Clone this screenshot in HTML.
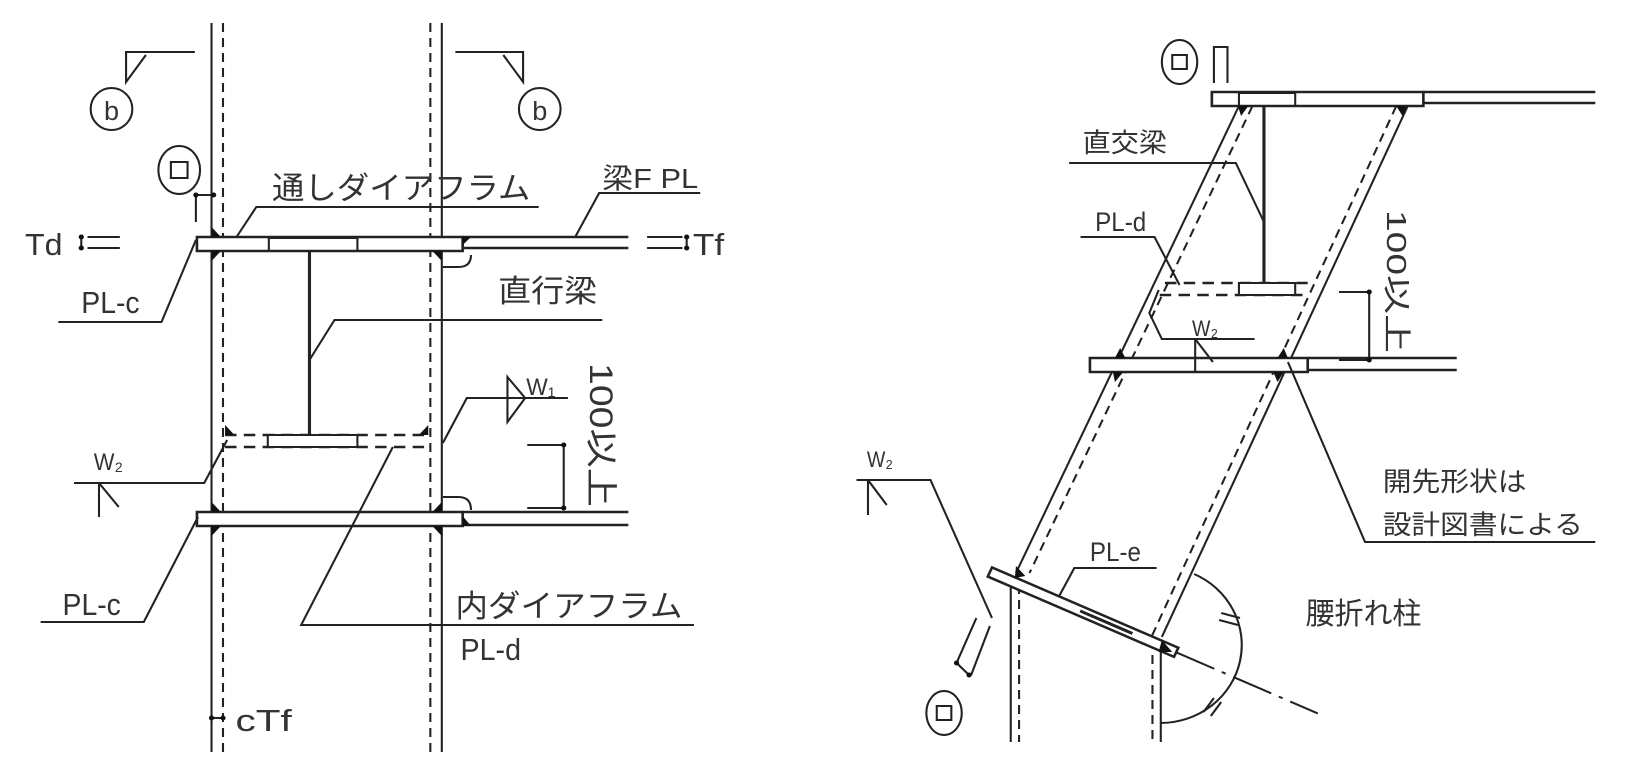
<!DOCTYPE html>
<html><head><meta charset="utf-8"><style>
html,body{margin:0;padding:0;background:#fff;width:1628px;height:776px;overflow:hidden}
svg{display:block}
text{font-family:"Liberation Sans","Noto Sans CJK JP",sans-serif;fill:#333}
</style></head><body>
<svg width="1628" height="776" viewBox="0 0 1628 776" xmlns="http://www.w3.org/2000/svg">
<g transform="scale(1.042,1)">
<g stroke="#222" stroke-width="2" fill="none">
<!-- LEFT FIGURE -->
<line x1="203" y1="23" x2="203" y2="752"/>
<line x1="424" y1="23" x2="424" y2="752"/>
<line x1="214" y1="23" x2="214" y2="752" stroke-dasharray="9,6"/>
<line x1="413" y1="23" x2="413" y2="752" stroke-dasharray="9,6"/>
<rect x="189" y="237" width="255" height="14" fill="#fff" stroke-width="2.5"/>
<rect x="258" y="238" width="85" height="13"/>
<line x1="444" y1="237" x2="603" y2="237" stroke-width="2.5"/>
<line x1="444" y1="248" x2="603" y2="248" stroke-width="2.5"/>
<path d="M425 267 L440 267 Q452 267 452 255"/>
<line x1="297" y1="251" x2="297" y2="435" stroke-width="3"/>
<line x1="216" y1="435" x2="413" y2="435" stroke-dasharray="11,7" stroke-width="2.5"/>
<line x1="216" y1="447" x2="413" y2="447" stroke-dasharray="11,7" stroke-width="2.5"/>
<rect x="257" y="435" width="86" height="12" fill="#fff"/>
<rect x="189" y="512" width="255" height="14" fill="#fff" stroke-width="2.5"/>
<line x1="444" y1="512" x2="603" y2="512" stroke-width="2.5"/>
<line x1="444" y1="525" x2="603" y2="525" stroke-width="2.5"/>
<path d="M425 497 L440 497 Q452 497 452 510"/>
<ellipse cx="107" cy="109" rx="20" ry="21"/>
<path d="M187 52 L121 52 L121 82 L140 55"/>
<ellipse cx="518" cy="109" rx="20" ry="21"/>
<path d="M437 52 L502 52 L502 82 L483 55"/>
<ellipse cx="172" cy="170" rx="20" ry="24"/>
<rect x="164" y="162" width="16" height="16"/>
<line x1="188" y1="195" x2="205" y2="195"/>
<line x1="188" y1="195" x2="188" y2="222"/>
<line x1="78" y1="237" x2="78" y2="248"/>
<line x1="84" y1="237" x2="115" y2="237"/>
<line x1="84" y1="248" x2="115" y2="248"/>
<line x1="621" y1="237" x2="655" y2="237"/>
<line x1="621" y1="248" x2="655" y2="248"/>
<line x1="659" y1="237" x2="659" y2="248"/>
<path d="M227 237 L246 207 L517 207"/>
<path d="M552 237 L575 193 L672 193"/>
<path d="M188 240 L155 322 L56 322"/>
<path d="M297 360 L321 320 L578 320"/>
<path d="M425 443 L448 398 L545 398"/>
<path d="M487 377 L504 398 L487 422 Z"/>
<line x1="541" y1="445" x2="541" y2="508"/>
<line x1="506" y1="445" x2="541" y2="445"/>
<line x1="506" y1="508" x2="541" y2="508"/>
<path d="M218 440 L196 483 L71 483"/>
<line x1="95" y1="483" x2="95" y2="517"/>
<line x1="95" y1="483" x2="114" y2="507"/>
<path d="M190 517 L138 622 L39 622"/>
<path d="M377 447 L289 625 L666 625"/>
<line x1="203" y1="718" x2="214" y2="718"/>

<!-- RIGHT FIGURE -->
<line x1="1189" y1="106" x2="975" y2="573"/>
<line x1="1202" y1="106" x2="988" y2="573" stroke-dasharray="9,6"/>
<line x1="970" y1="580" x2="970" y2="742"/>
<line x1="978" y1="585" x2="978" y2="742" stroke-dasharray="9,6"/>
<line x1="1351" y1="106" x2="1115" y2="637"/>
<line x1="1340" y1="106" x2="1105" y2="637" stroke-dasharray="9,6"/>
<line x1="1114" y1="650" x2="1114" y2="742"/>
<line x1="1106" y1="655" x2="1106" y2="742" stroke-dasharray="9,6"/>
<rect x="1163" y="92" width="203" height="14" fill="#fff" stroke-width="2.5"/>
<rect x="1189" y="93" width="54" height="13"/>
<line x1="1366" y1="92" x2="1531" y2="92" stroke-width="2.5"/>
<line x1="1366" y1="103" x2="1531" y2="103" stroke-width="2.5"/>
<line x1="1213" y1="106" x2="1213" y2="283" stroke-width="3"/>
<line x1="1118" y1="283" x2="1262" y2="283" stroke-dasharray="11,7" stroke-width="2.5"/>
<line x1="1113" y1="295" x2="1256" y2="295" stroke-dasharray="11,7" stroke-width="2.5"/>
<rect x="1189" y="283" width="54" height="12" fill="#fff"/>
<rect x="1046" y="358" width="209" height="14" fill="#fff" stroke-width="2.5"/>
<line x1="1255" y1="358" x2="1398" y2="358" stroke-width="2.5"/>
<line x1="1255" y1="370" x2="1398" y2="370" stroke-width="2.5"/>
<ellipse cx="1132" cy="62" rx="17" ry="22"/>
<rect x="1125" y="55" width="14" height="14"/>
<path d="M1165 83 L1165 47 L1178 47 L1178 83"/>
<path d="M1213 222 L1186 163 L1026 163"/>
<path d="M1132 285 L1108 237 L1037 237"/>
<path d="M1112 290 L1103 313 L1115 339 L1204 339"/>
<line x1="1147" y1="339" x2="1147" y2="372"/>
<line x1="1147" y1="339" x2="1164" y2="362"/>
<line x1="1314" y1="292" x2="1314" y2="360"/>
<line x1="1285" y1="292" x2="1314" y2="292"/>
<line x1="1285" y1="360" x2="1314" y2="360"/>
<path d="M1236 362 L1310 542 L1531 542"/>
<g transform="translate(950,572) rotate(24.2)">
<rect x="0" y="-5" width="196" height="10" fill="#fff" stroke-width="2.5"/>
<line x1="95" y1="0" x2="150" y2="0" stroke-width="3"/>
<line x1="196" y1="0" x2="345" y2="0" stroke-dasharray="40,8,4,8"/>
</g>
<path d="M1016 597 L1031 568 L1110 568"/>
<path d="M1146 574 A78 78 0 0 1 1114 723"/>
<line x1="1172" y1="613" x2="1190" y2="618"/>
<line x1="1170" y1="620" x2="1188" y2="625"/>
<line x1="1155" y1="712" x2="1165" y2="698"/>
<line x1="1162" y1="716" x2="1172" y2="702"/>
<path d="M822 480 L893 480 L952 618"/>
<line x1="833" y1="480" x2="833" y2="515"/>
<line x1="833" y1="480" x2="851" y2="505"/>
<line x1="937" y1="618" x2="918" y2="663"/>
<line x1="950" y1="626" x2="932" y2="675"/>
<line x1="918" y1="663" x2="930" y2="675"/>
<ellipse cx="906" cy="713" rx="17" ry="22"/>
<rect x="899" y="706" width="14" height="14"/>
</g>
<g fill="#111">
<path d="M203 227 L212 237 L203 237Z"/><path d="M203 251 L212 251 L203 261Z"/>
<path d="M424 251 L415 251 L424 261Z"/><path d="M444 245 L452 237 L444 237Z"/>
<path d="M216 425 L225 435 L216 435Z"/><path d="M411 425 L402 435 L411 435Z"/>
<path d="M203 502 L212 512 L203 512Z"/><path d="M203 526 L212 526 L203 536Z"/>
<path d="M424 502 L415 512 L424 512Z"/><path d="M424 526 L415 526 L424 536Z"/>
<path d="M444 516 L452 526 L444 526Z"/>
<path d="M1188 106 L1198 106 L1191 116Z"/><path d="M1350 106 L1340 106 L1346 116Z"/>
<path d="M1070 358 L1080 358 L1075 348Z"/><path d="M1068 372 L1078 372 L1070 382Z"/>
<path d="M1236 358 L1226 358 L1232 348Z"/><path d="M1232 372 L1222 372 L1226 382Z"/>
<path d="M975 566 L984 576 L974 578Z"/><path d="M1115 640 L1125 652 L1112 652Z"/>
<circle cx="78" cy="237" r="2.5"/><circle cx="78" cy="248" r="2.5"/>
<circle cx="659" cy="237" r="2.5"/><circle cx="659" cy="248" r="2.5"/>
<circle cx="188" cy="195" r="2.5"/><circle cx="205" cy="195" r="2.5"/>
<circle cx="541" cy="445" r="2.5"/><circle cx="541" cy="508" r="2.5"/>
<circle cx="203" cy="718" r="2.5"/><circle cx="214" cy="718" r="2.5"/>
<circle cx="1314" cy="292" r="2.5"/><circle cx="1314" cy="360" r="2.5"/>
<circle cx="918" cy="663" r="2.5"/><circle cx="930" cy="675" r="2.5"/>
</g>
<g font-size="31">
<text x="107" y="120" font-size="26" text-anchor="middle">b</text>
<text x="518" y="120" font-size="26" text-anchor="middle">b</text>
<text x="24" y="255" textLength="36" lengthAdjust="spacingAndGlyphs">Td</text>
<text x="665" y="255" textLength="30" lengthAdjust="spacingAndGlyphs">Tf</text>
<text x="261" y="199" textLength="248" lengthAdjust="spacingAndGlyphs">通しダイアフラム</text>
<text x="578" y="188" font-size="28" textLength="92" lengthAdjust="spacingAndGlyphs">梁F PL</text>
<text x="78" y="313" textLength="56" lengthAdjust="spacingAndGlyphs">PL-c</text>
<text x="478" y="302" textLength="95" lengthAdjust="spacingAndGlyphs">直行梁</text>
<text x="505" y="395" font-size="24" textLength="28" lengthAdjust="spacingAndGlyphs">W₁</text>
<text x="90" y="470" font-size="24" textLength="28" lengthAdjust="spacingAndGlyphs">W₂</text>
<text transform="translate(566,363) rotate(90)" textLength="144" lengthAdjust="spacingAndGlyphs">100以上</text>
<text x="60" y="615" textLength="56" lengthAdjust="spacingAndGlyphs">PL-c</text>
<text x="437" y="617" textLength="218" lengthAdjust="spacingAndGlyphs">内ダイアフラム</text>
<text x="442" y="660" textLength="58" lengthAdjust="spacingAndGlyphs">PL-d</text>
<text x="226" y="731" textLength="54" lengthAdjust="spacingAndGlyphs">cTf</text>
<text x="1039" y="152" font-size="27" textLength="81" lengthAdjust="spacingAndGlyphs">直交梁</text>
<text x="1051" y="231" font-size="27" textLength="49" lengthAdjust="spacingAndGlyphs">PL-d</text>
<text x="1144" y="336" font-size="22" textLength="25" lengthAdjust="spacingAndGlyphs">W₂</text>
<text transform="translate(1331,210) rotate(90)" font-size="27" textLength="143" lengthAdjust="spacingAndGlyphs">100以上</text>
<text x="832" y="467" font-size="22" textLength="25" lengthAdjust="spacingAndGlyphs">W₂</text>
<text x="1327" y="491" font-size="27" textLength="138" lengthAdjust="spacingAndGlyphs">開先形状は</text>
<text x="1327" y="534" font-size="27" textLength="192" lengthAdjust="spacingAndGlyphs">設計図書による</text>
<text x="1046" y="561" font-size="27" textLength="49" lengthAdjust="spacingAndGlyphs">PL-e</text>
<text x="1253" y="624" font-size="30" textLength="111" lengthAdjust="spacingAndGlyphs">腰折れ柱</text>
</g>
</g>
</svg>
</body></html>
